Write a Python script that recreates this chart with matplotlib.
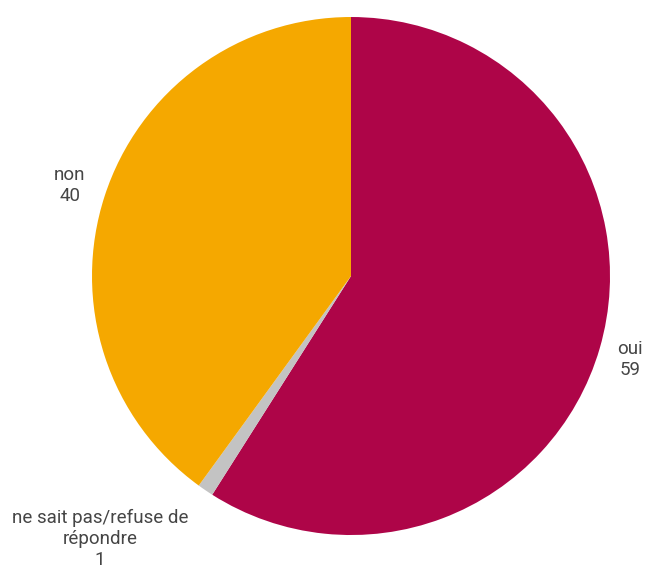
import matplotlib.pyplot as plt

# Data
labels = ["oui", "ne sait pas/refuse de\nrépondre", "non"]
values = [59, 1, 40]
colors = ["#AE0548", "#C3C3C3", "#F5A800"]

plt.rcParams["font.family"] = ["Roboto", "DejaVu Sans"]

fig = plt.figure(figsize=(6.46, 5.67), dpi=100)
ax = fig.add_axes([0.1424, 0.0564, 0.8019, 0.9136])

wedges, _ = ax.pie(
    values,
    colors=colors,
    startangle=90,
    counterclock=False,
    radius=1,
    wedgeprops={"linewidth": 0},
)

# Label positions (data coords)
label_pos = [(1.077, -0.324), (-0.969, -1.015), (-1.085, 0.351)]
for (x, y), lab, val in zip(label_pos, labels, values):
    ax.text(x, y, f"{lab}\n{val}", ha="center", va="center",
            fontsize=13.5, fontweight="normal", color="#454545",
            linespacing=1.22)

ax.set_xlim(-1, 1)
ax.set_ylim(-1, 1)
ax.set_aspect("equal")
ax.axis("off")

fig.savefig("out.png", dpi=100)
